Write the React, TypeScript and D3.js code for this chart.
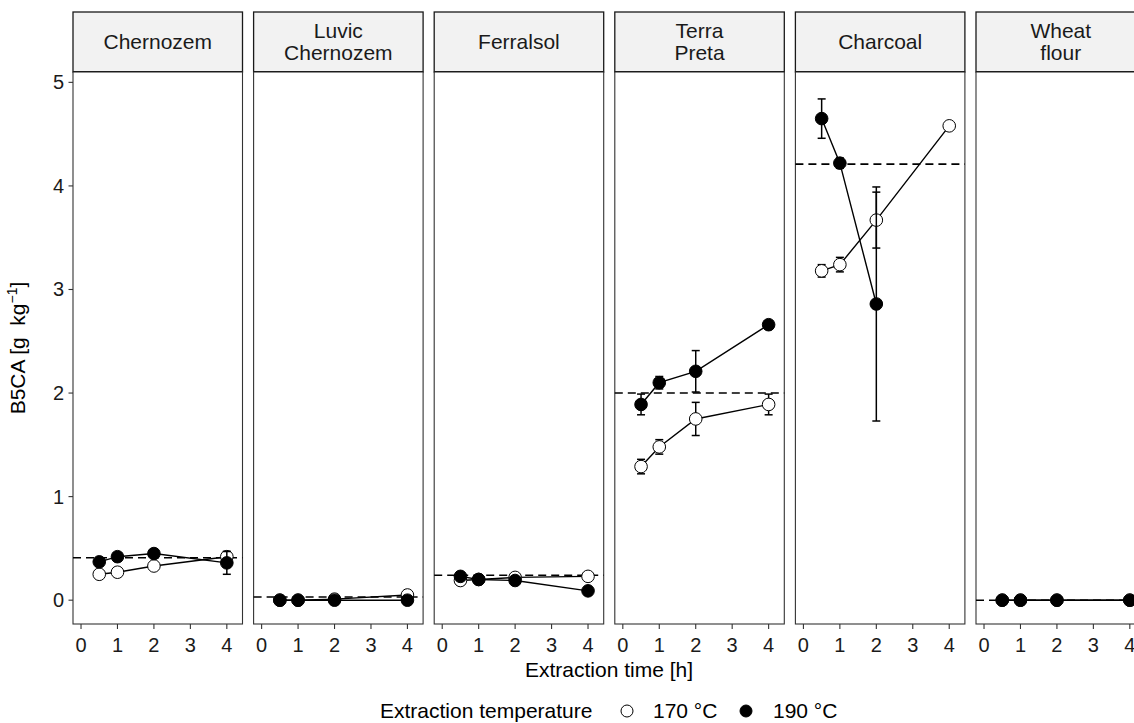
import React from "react";
import * as d3 from "d3";

// facet labels (line breaks as in the strips)
const panels = ["Chernozem", "Luvic\nChernozem", "Ferralsol", "Terra\nPreta", "Charcoal", "Wheat\nflour"];
const times = [0.5, 1, 2, 4];
const xTicks = [0, 1, 2, 3, 4];
const yTicks = [0, 1, 2, 3, 4, 5];

// dashed reference value per panel
const refValues = [0.41, 0.03, 0.24, 2.0, 4.21, 0.0];

// 170 °C means and error half-widths
const mean170 = [
  [0.25, 0.27, 0.33, 0.42],
  [0.0, 0.0, 0.01, 0.05],
  [0.19, 0.2, 0.22, 0.23],
  [1.29, 1.48, 1.75, 1.89],
  [3.18, 3.24, 3.67, 4.58],
  [0.0, 0.0, 0.0, 0.0],
];
const err170 = [
  [0.02, 0.02, 0.02, 0.05],
  [0.0, 0.0, 0.0, 0.01],
  [0.01, 0.01, 0.01, 0.01],
  [0.07, 0.07, 0.16, 0.1],
  [0.06, 0.07, 0.27, 0.02],
  [0.0, 0.0, 0.0, 0.0],
];

// 190 °C means and error half-widths (null = not measured)
const mean190: (number | null)[][] = [
  [0.37, 0.42, 0.45, 0.36],
  [0.0, 0.0, 0.0, 0.0],
  [0.23, 0.2, 0.19, 0.09],
  [1.89, 2.1, 2.21, 2.66],
  [4.65, 4.22, 2.86, null],
  [0.0, 0.0, 0.0, 0.0],
];
const err190 = [
  [0.03, 0.03, 0.03, 0.11],
  [0.0, 0.0, 0.0, 0.0],
  [0.01, 0.01, 0.01, 0.01],
  [0.1, 0.06, 0.2, 0.02],
  [0.19, 0.05, 1.13, 0],
  [0.0, 0.0, 0.0, 0.0],
];

const W = 1134;
const H = 723;
const panelLeft = 73;
const panelW = 169.5;
const panelStep = 180.6;
const top = 72;
const bottom = 624;
const stripTop = 12;
const font = "'Liberation Sans', Arial, sans-serif";

function Series({ x, y, means, errs, filled }) {
  const pts = times
    .map((t, i) => ({ t, v: means[i], e: errs[i] }))
    .filter((d) => d.v !== null && d.v !== undefined);
  const line = d3.line<any>().x((d) => x(d.t)).y((d) => y(d.v));
  return (
    <g>
      {pts.map((d, i) =>
        d.e > 0.03 ? (
          <g key={"e" + i} stroke="#000" strokeWidth={1.5}>
            <line x1={x(d.t)} x2={x(d.t)} y1={y(d.v - d.e)} y2={y(d.v + d.e)} />
            <line x1={x(d.t) - 4} x2={x(d.t) + 4} y1={y(d.v - d.e)} y2={y(d.v - d.e)} />
            <line x1={x(d.t) - 4} x2={x(d.t) + 4} y1={y(d.v + d.e)} y2={y(d.v + d.e)} />
          </g>
        ) : null
      )}
      <path d={line(pts) || ""} fill="none" stroke="#000" strokeWidth={1.4} />
      {pts.map((d, i) => (
        <circle key={"p" + i} cx={x(d.t)} cy={y(d.v)} r={6.3} fill={filled ? "#000" : "#fff"} stroke="#000" strokeWidth={1} />
      ))}
    </g>
  );
}

export default function App() {
  const y = d3.scaleLinear().domain([-0.23, 5.1]).range([bottom, top]);

  return (
    <div style={{ position: "absolute", left: 0, top: 0 }}>
      <svg width={W} height={H} style={{ display: "block", background: "#fff", fontFamily: font }}>
        {/* y axis */}
        {yTicks.map((t) => (
          <g key={t}>
            <line x1={panelLeft - 4.5} x2={panelLeft} y1={y(t)} y2={y(t)} stroke="#333" strokeWidth={1.1} />
            <text x={panelLeft - 9} y={y(t)} dy="0.35em" textAnchor="end" fontSize={20} fill="#1a1a1a">
              {t}
            </text>
          </g>
        ))}
        <text
          transform={`translate(25,${(top + bottom) / 2}) rotate(-90)`}
          textAnchor="middle"
          fontSize={21}
          fill="#000"
          style={{ whiteSpace: "pre" }}
        >
          {"B5CA [g  kg"}
          <tspan dy={-8} fontSize={14}>−1</tspan>
          <tspan dy={8}>]</tspan>
        </text>

        {panels.map((name, p) => {
          const left = panelLeft + p * panelStep;
          const x = d3.scaleLinear().domain([-0.22, 4.43]).range([left, left + panelW]);
          const lines = name.split("\n");
          const cy = (stripTop + top) / 2;
          return (
            <g key={name}>
              {/* strip */}
              <rect x={left} y={stripTop} width={panelW} height={top - stripTop} fill="#f2f2f2" stroke="#1a1a1a" strokeWidth={1.3} />
              <line x1={left} x2={left + panelW} y1={top} y2={top} stroke="#000" strokeWidth={2} />
              <text textAnchor="middle" fontSize={21} fill="#1a1a1a">
                {lines.map((l, i) => (
                  <tspan key={i} x={left + panelW / 2} y={cy + (i - (lines.length - 1) / 2) * 22} dy="0.35em">
                    {l}
                  </tspan>
                ))}
              </text>
              {/* panel */}
              <rect x={left} y={top} width={panelW} height={bottom - top} fill="#fff" stroke="#333" strokeWidth={1.1} />
              <line
                x1={left}
                x2={left + panelW}
                y1={y(refValues[p])}
                y2={y(refValues[p])}
                stroke="#000"
                strokeWidth={1.6}
                strokeDasharray="8,5"
              />
              <Series x={x} y={y} means={mean170[p]} errs={err170[p]} filled={false} />
              <Series x={x} y={y} means={mean190[p]} errs={err190[p]} filled={true} />
              {/* x axis */}
              {xTicks.map((t) => (
                <g key={t}>
                  <line x1={x(t)} x2={x(t)} y1={bottom} y2={bottom + 5} stroke="#333" strokeWidth={1.1} />
                  <text x={x(t)} y={652} textAnchor="middle" fontSize={20} fill="#1a1a1a">
                    {t}
                  </text>
                </g>
              ))}
            </g>
          );
        })}

        <text x={609} y={677} textAnchor="middle" fontSize={21} fill="#000">
          Extraction time [h]
        </text>

        {/* legend */}
        <g fontSize={21} fill="#000">
          <text x={380} y={718}>Extraction temperature</text>
          <circle cx={627} cy={711} r={6} fill="#fff" stroke="#000" strokeWidth={1} />
          <text x={653} y={718}>170 °C</text>
          <circle cx={746} cy={711} r={6} fill="#000" stroke="#000" strokeWidth={1} />
          <text x={773} y={718}>190 °C</text>
        </g>
      </svg>
    </div>
  );
}
